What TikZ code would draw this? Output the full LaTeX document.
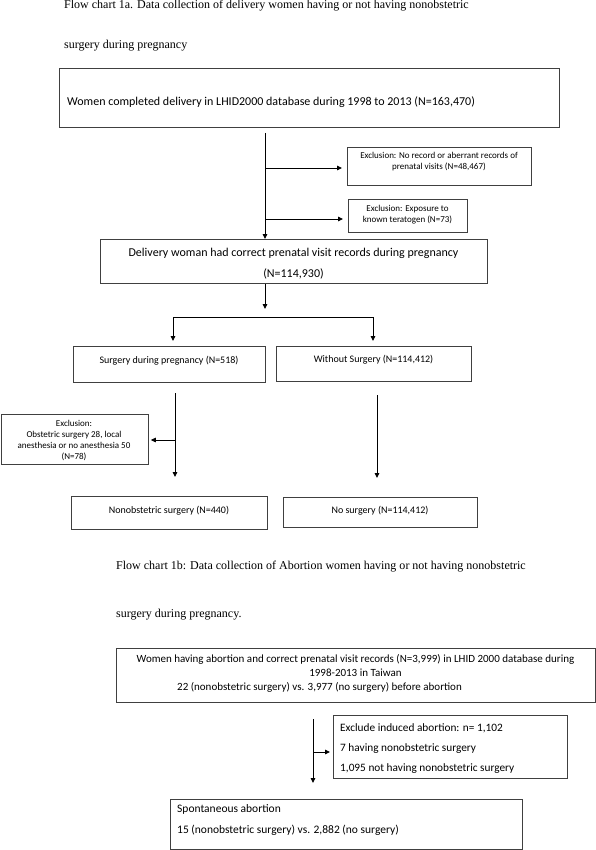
\documentclass[tikz,border=0pt]{standalone}
\usepackage{fontspec}
\setmainfont{Liberation Serif}
\newfontfamily\calfont{Carlito}
\usetikzlibrary{arrows.meta}
\begin{document}
\begin{tikzpicture}[x=1pt,y=-1pt,
 box/.style={draw=black!75,line width=0.8pt,anchor=north west,inner sep=0pt},
 arr/.style={line width=0.9pt,-{Triangle[length=5pt,width=4.5pt]}},
 ln/.style={line width=0.9pt},
 ttl/.style={anchor=west,inner sep=0pt,font=\fontsize{12}{13}\selectfont},
 txt/.style={inner sep=0pt}]
\useasboundingbox (0,0) rectangle (596,850);
% titles
\node[ttl] (t1a) at (64,6) {Flow chart 1a. Data collection of delivery women having or not having nonobstetric};
\node[ttl] (t1b) at (64,46) {surgery during pregnancy};
% boxes chart 1a
\node[box,minimum width=500pt,minimum height=59pt] (b1) at (59,68) {};
\node[txt,anchor=west,font=\calfont\fontsize{12}{14}\selectfont] (b1t) at (67,102) {Women completed delivery in LHID2000 database during 1998 to 2013 (N=163,470)};
\node[box,minimum width=184pt,minimum height=38pt] (e1) at (347,147) {};
\node[txt,align=center,font=\calfont\fontsize{9}{11}\selectfont] (e1t) at (439,161.5) {Exclusion: No record or aberrant records of\\prenatal visits (N=48,467)};
\node[box,minimum width=119pt,minimum height=33pt] (e2) at (348,199) {};
\node[txt,align=center,font=\calfont\fontsize{9}{11}\selectfont] (e2t) at (407.5,214.5) {Exclusion: Exposure to\\known teratogen (N=73)};
\node[box,minimum width=387pt,minimum height=44pt] (b2) at (100,239) {};
\node[txt,align=center,font=\calfont\fontsize{12}{21}\selectfont] (b2t) at (293.5,263.5) {Delivery woman had correct prenatal visit records during pregnancy\\(N=114,930)};
\node[box,minimum width=192pt,minimum height=36pt] (s1) at (73,346) {};
\node[txt,font=\calfont\fontsize{10}{12}\selectfont] (s1t) at (169,361) {Surgery during pregnancy (N=518)};
\node[box,minimum width=195pt,minimum height=35pt] (s2) at (276,346) {};
\node[txt,font=\calfont\fontsize{10}{12}\selectfont] (s2t) at (373.5,360) {Without Surgery (N=114,412)};
\node[box,minimum width=147.5pt,minimum height=50pt] (e3) at (0.5,414) {};
\node[txt,align=center,font=\calfont\fontsize{9}{11}\selectfont] (e3t) at (74,440.5) {Exclusion:\\Obstetric surgery 28, local\\anesthesia or no anesthesia 50\\(N=78)};
\node[box,minimum width=196pt,minimum height=33pt] (n1) at (71,496) {};
\node[txt,font=\calfont\fontsize{10}{12}\selectfont] (n1t) at (169,511) {Nonobstetric surgery (N=440)};
\node[box,minimum width=194pt,minimum height=30pt] (n2) at (283,497) {};
\node[txt,font=\calfont\fontsize{10}{12}\selectfont] (n2t) at (380,511) {No surgery (N=114,412)};
% connectors chart 1a
\coordinate (tr1) at (265,133);
\draw[arr] (tr1) -- (tr1 |- b2.north);
\draw[arr] (265,168) coordinate (j1) -- ([xshift=-5pt]e1.west |- j1);
\draw[arr] (265,219) coordinate (j2) -- ([xshift=-5pt]e2.west |- j2);
\coordinate (tr2) at (265,309);
\draw[arr] (tr2 |- b2.south) -- (tr2);
\coordinate (hl) at (173,317);
\coordinate (hr) at (373,317);
\draw[ln] (hl) -- (hr);
\draw[arr] (hl) -- ([yshift=5pt]hl |- s1.north);
\draw[arr] (hr) -- ([yshift=5pt]hr |- s2.north);
\coordinate (v1) at (175,393);
\draw[arr] (v1) -- ([yshift=19pt]v1 |- n1.north);
\draw[arr] (175,440) coordinate (j3) -- ([xshift=2pt]e3.east |- j3);
\coordinate (v2) at (377,395);
\draw[arr] (v2) -- ([yshift=19pt]v2 |- n2.north);
% chart 1b
\node[ttl] (t2a) at (116,567) {Flow chart 1b: Data collection of Abortion women having or not having nonobstetric};
\node[ttl] (t2b) at (116,615) {surgery during pregnancy.};
\node[box,minimum width=479pt,minimum height=54pt] (c1) at (116,648) {};
\node[txt,align=center,font=\calfont\fontsize{11}{14}\selectfont] (c1t) at (355.5,666) {Women having abortion and correct prenatal visit records (N=3,999) in LHID 2000 database during\\1998-2013 in Taiwan};
\node[txt,anchor=west,font=\calfont\fontsize{11}{14}\selectfont] (c1u) at (177,687) {22 (nonobstetric surgery) vs. 3,977 (no surgery) before abortion};
\node[box,minimum width=234pt,minimum height=63pt] (c2) at (333,715) {};
\node[txt,align=left,anchor=west,font=\calfont\fontsize{11.3}{20}\selectfont] (c2t) at (340,749) {Exclude induced abortion: n= 1,102\\7 having nonobstetric surgery\\1,095 not having nonobstetric surgery};
\node[box,minimum width=352pt,minimum height=50pt] (c3) at (170,799) {};
\node[txt,align=left,anchor=west,font=\calfont\fontsize{11.5}{21}\selectfont] (c3t) at (177,819.5) {Spontaneous abortion\\15 (nonobstetric surgery) vs. 2,882 (no surgery)};
\coordinate (tr3) at (313,719);
\draw[arr] (tr3) -- ([yshift=16pt]tr3 |- c3.north);
\draw[arr] (313,752) coordinate (j4) -- ([xshift=-3pt]c2.west |- j4);
\end{tikzpicture}
\end{document}
